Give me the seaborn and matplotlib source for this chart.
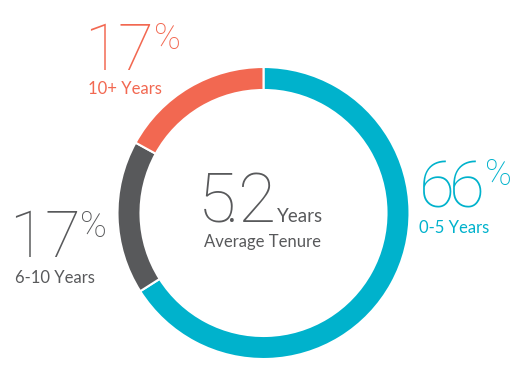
import matplotlib
matplotlib.use("Agg")
import matplotlib.pyplot as plt
import seaborn as sns

# data
groups = ["0-5 Years", "6-10 Years", "10+ Years"]
shares = [66, 17, 17]
colors = ["#00b2cc", "#58595b", "#f26851"]
avg_tenure = "5.2"

sns.set_theme(style="white")
plt.rcParams["font.family"] = ["Lato", "DejaVu Sans"]

W, H = 526, 377
CX, CY, R = 263.5, 213, 146
fig = plt.figure(figsize=(W / 100, H / 100), dpi=100)
ax = fig.add_axes([0, 0, 1, 1])

ax.pie(shares, colors=colors, startangle=90, counterclock=False, radius=1,
       wedgeprops=dict(width=23 / R, edgecolor="white", linewidth=1.5))
ax.set_xlim(-CX / R, (W - CX) / R)
ax.set_ylim(-(H - CY) / R, CY / R)
ax.set_aspect("auto")
ax.axis("off")

thin = ["Roboto", "DejaVu Sans"]


def put(px, py, s, size, color, weight="normal", family=None, ha="left"):
    # place text by pixel position (x, baseline)
    kw = {"family": family} if family else {}
    fig.text(px / W, 1 - py / H, s, fontsize=size, color=color,
             fontweight=weight, ha=ha, va="baseline", **kw)


def big_number(centers, py, s, color, size=47):
    # the original uses a narrow light face, so set each glyph on its own
    for cx, ch in zip(centers, s):
        put(cx, py, ch, size, color, "light", thin, ha="center")


def percent(cx, py, color):
    put(cx, py, "%", 26, color, "light", thin, ha="center")


small = 12

# 10+ Years
big_number([102, 135], 70, f"{shares[2]}", colors[2])
percent(167, 49, colors[2])
put(88, 94, groups[2], small, colors[2])

# 0-5 Years
big_number([437, 467], 207, f"{shares[0]}", colors[0])
percent(498, 185, colors[0])
put(419, 233, groups[0], small, colors[0])

# 6-10 Years
big_number([27, 62], 257, f"{shares[1]}", colors[1])
percent(93, 237, colors[1])
put(15, 283, groups[1], small, colors[1])

# center
big_number([217, 232, 257], 222, avg_tenure, "#58595b", size=50)
put(277, 222, "Years", 13.5, "#58595b")
put(204, 247, "Average Tenure", 12, "#58595b")

fig.savefig("out.png", dpi=100)
